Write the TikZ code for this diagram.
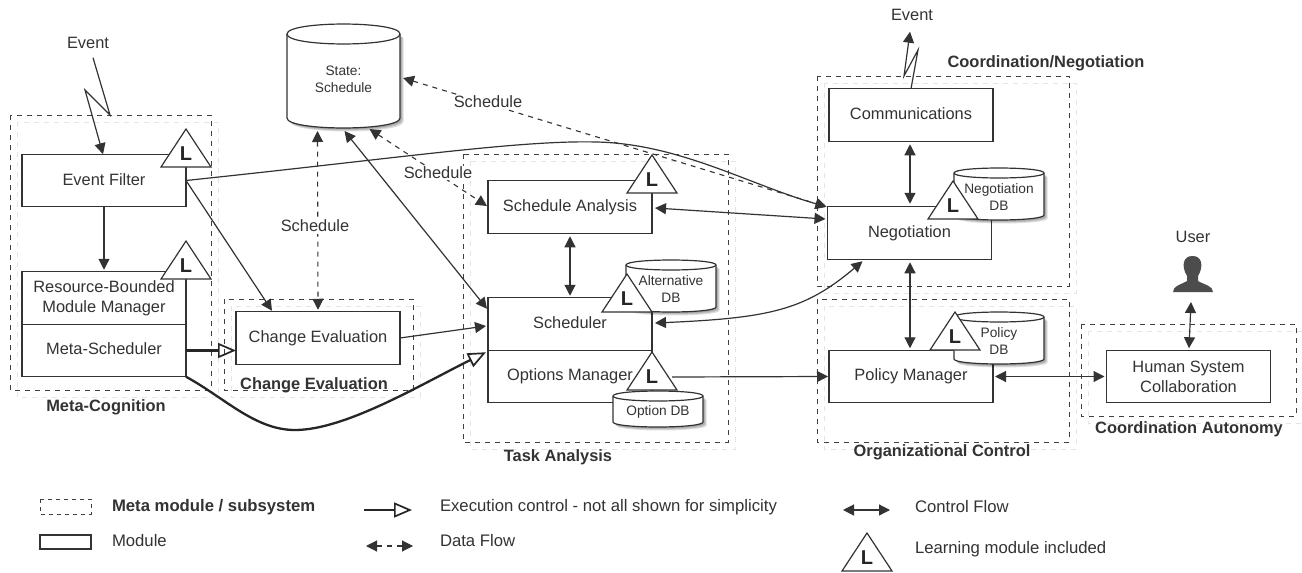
\documentclass[tikz,border=0pt]{standalone}
\usepackage{fontspec}
\setmainfont{Liberation Sans}
\usetikzlibrary{arrows.meta,calc}
\definecolor{ink}{HTML}{333333}
\newcommand\bodyfont{\fontsize{16.4}{20}\selectfont}
\newcommand\legendfont{\fontsize{16.7}{20}\selectfont}
\newcommand\smallfont{\fontsize{13.7}{17}\selectfont}
\tikzset{
  x=1pt,y=-1pt,
  every node/.style={text=ink,inner sep=0pt,outer sep=0pt,font=\bodyfont},
  modbox/.style={draw=ink,line width=1.2pt,fill=white,minimum width=164pt,minimum height=52.5pt,align=center},
  meta/.style={draw=black!75,line width=1pt,dash pattern=on 5pt off 5pt},
  ghost/.style={draw=black!10,line width=1pt,dash pattern=on 5pt off 5pt},
  label/.style={font=\bodyfont\bfseries},
  legendtext/.style={anchor=west,font=\legendfont},
  dbtext/.style={font=\smallfont,align=center},
  ctl/.style={draw=ink,line width=1.2pt,{Triangle[length=11pt,width=11pt]}-{Triangle[length=11pt,width=11pt]}},
  ctlend/.style={draw=ink,line width=1.2pt,-{Triangle[length=11pt,width=11pt]}},
  data/.style={draw=ink,line width=1.1pt,dash pattern=on 5pt off 5pt,{Triangle[length=11pt,width=11pt]}-{Triangle[length=11pt,width=11pt]}},
  exec/.style={draw=black!85,line width=2.3pt,-{Triangle[open,length=18pt,width=15pt,line width=1.7pt]}},
}
% meta box: x1 y1 x2 y2
\newcommand\metabox[4]{%
  \draw[ghost] (#1+7,#2+7) rectangle (#3+7,#4+7);
  \draw[meta] (#1,#2) rectangle (#3,#4);}
% learning triangle: name apexx apexy
\newcommand\learn[3]{%
  \draw[draw=ink,line width=1.2pt,fill=white,line join=miter] (#2,#3) -- (#2+25,#3+38) -- (#2-25,#3+38) -- cycle;
  \node[font=\fontsize{20}{22}\selectfont\bfseries,text=black!85] (#1) at (#2,#3+25) {L};}
% cylinder: name x1 y1 x2 y2 ry text
\newcommand\dbcyl[7]{%
  \foreach \s in {1.5,2.5,3.5}{%
    \fill[black,opacity=.13] (#2+\s,#3+#6+\s) -- (#4+\s,#3+#6+\s) -- (#4+\s,#5-#6+\s)
      .. controls (#4+\s,#5+\s+.33*#6) and (#2+\s,#5+\s+.33*#6) .. (#2+\s,#5-#6+\s) -- cycle;}
  \draw[draw=ink,line width=1.2pt,fill=white] (#2,#3+#6)
     .. controls (#2,#3-.33*#6) and (#4,#3-.33*#6) .. (#4,#3+#6)
     -- (#4,#5-#6) .. controls (#4,#5+.33*#6) and (#2,#5+.33*#6) .. (#2,#5-#6) -- cycle;
  \draw[draw=ink,line width=1.2pt] (#2,#3+#6) .. controls (#2,#3+2.33*#6) and (#4,#3+2.33*#6) .. (#4,#3+#6);
  \node[dbtext,minimum width=#4pt-#2pt,minimum height=#5pt-#3pt] (#1) at ({(#2+#4)/2},{(#3+#5)/2+3}) {#7};}
\begin{document}
\begin{tikzpicture}
\useasboundingbox (0,0) rectangle (1302,573);
\fill[white] (0,0) rectangle (1302,573);
% meta boxes
\metabox{10}{115}{211}{390}
\metabox{224}{299}{413}{390}
\metabox{463}{154}{728}{442}
\metabox{817}{76}{1069}{286}
\metabox{817}{299}{1069}{442}
\begin{scope}\clip (0,0) rectangle (1302,573);\metabox{1081}{324}{1296}{416}\end{scope}
\node (evin) at (88,43) {Event};
\node (evout) at (912,15) {Event};
\node[label] (lmeta) at (106,407) {Meta-Cognition};
\node[label] (lchange) at (314,385) {Change Evaluation};
\node[label] (ltask) at (558,457) {Task Analysis};
\node[label] (lcoord) at (1046,63) {Coordination/Negotiation};
\node[label] (lorg) at (942,452) {Organizational Control};
\node[label] (lauto) at (1189,429) {Coordination Autonomy};
% modules
\node[modbox] (ef) at (104,180.5) {\raisebox{1pt}{Event Filter}};
\node[modbox] (rb) at (104,298) {Resource-Bounded\\Module Manager};
\node[modbox] (ms) at (104,350.5) {\raisebox{3pt}{Meta-Scheduler}};
\node[modbox] (ce) at (318,338) {\raisebox{2pt}{Change Evaluation}};
\node[modbox] (sa) at (570,207) {\raisebox{3pt}{Schedule Analysis}};
\node[modbox] (sch) at (570,324) {\raisebox{2pt}{Scheduler}};
\node[modbox] (om) at (570,376.5) {\raisebox{2pt}{Options Manager}};
\node[modbox] (com) at (911,115) {\raisebox{3pt}{Communications}};
\node[modbox] (neg) at (909.5,233) {\raisebox{3pt}{Negotiation}};
\node[modbox] (pm) at (911,376.5) {\raisebox{2pt}{Policy Manager}};
\node[modbox] (hsc) at (1188.5,376.5) {Human System\\Collaboration};
% databases
\dbcyl{state}{287}{24}{400}{128}{10}{\raisebox{-3.5pt}{State:}\\\raisebox{-3.5pt}{Schedule}}
\dbcyl{altdb}{626}{260}{716}{312}{5}{Alternative\\DB}
\dbcyl{optdb}{613}{391}{703}{427}{5}{Option DB}
\dbcyl{negdb}{954}{168}{1044}{220}{5}{Negotiation\\DB}
\dbcyl{poldb}{954}{312}{1044}{364}{5}{Policy\\DB}
% learning marks
\learn{lef}{186}{129}
\learn{lrb}{186}{241}
\learn{lsa}{652}{155}
\learn{lsch}{627}{274}
\learn{lom}{652}{352}
\learn{lneg}{953}{181}
\learn{lpol}{955}{312}
% control flows
\coordinate (ev1) at (85,90);
\coordinate (ev2) at (110,115);
\draw[ctlend,line join=miter] ($(evin.south)+(5,9)$) -- (ev2) -- (ev1) -- ($(ef.north)+(-1,0)$);
\coordinate (ov1) at (918,50);
\coordinate (ov2) at (904,76);
\draw[ctlend,line join=miter] (com.north) -- (ov1) -- (ov2) -- ($(evout.south)+(-2,11)$);
\draw[ctlend] (ef.south) -- ($(rb.north)+(0,-2)$);
\draw[ctlend] (ef.east) -- ($(ce.north)+(-46,-1)$);
\draw[ctlend] (ce.east) -- ($(sch.west)+(-2,2)$);
\draw[ctl] ($(state.south)+(1,0)$) -- ($(sch.north west)+(-1,11)$);
\draw[ctl] ($(sa.south)+(0,3)$) -- ($(sch.north)+(0,-2)$);
\draw[ctl] ($(sa.east)+(3,1)$) -- ($(neg.west)+(-2,-14)$);
\draw[ctl] ($(com.south)+(-1,3)$) -- ($(neg.north)+(.5,-3)$);
\draw[ctl] ($(neg.south)+(.5,3)$) -- ($(pm.north)+(-1,-2)$);
\draw[ctl] ($(pm.east)+(2,0)$) -- ($(hsc.west)+(-2,0)$);
\draw[ctl] ($(sch.east)+(3,-1)$) .. controls (770,318) and (805,310) .. ($(neg.south west)+(35,2)$);
\draw[ctlend] ($(lom.east)+(14,0)$) -- ($(pm.west)+(-1,0)$);
\draw[ctlend] (ef.east) .. controls (400,158) and (520,140) .. (597,142) .. controls (680,144) and (750,185) .. ($(neg.north west)+(-1,0)$);
% data flows
\draw[data] ($(state.south)+(-26,0)$) -- ($(ce.north)+(0,-2)$);
\node[fill=white,inner sep=1.5pt] (sc1) at (315,226) {Schedule};
\draw[data] ($(state.south)+(26,-2)$) -- ($(sa.west)+(-1,-1)$);
\draw[data] ($(state.east)+(3,-1)$) -- ($(neg.north west)+(-1,0)$);
\node[fill=white,inner sep=1pt] (sc2) at (438,173) {Schedule};
\node[fill=white,inner sep=1pt] (sc3) at (488,102) {Schedule};
% execution control
\draw[exec] (ms.east) -- (ce.west |- ms.east);
\draw[exec] (ms.south east) .. controls (225,398) and (255,430) .. (295,430) .. controls (345,430) and (420,385) .. ($(om.north west)+(-2,2)$);
% user
\node (user) at (1193,237) {User};
\fill[black!70] (1173,292) .. controls (1173,286) and (1180,285) .. (1187,281) -- (1187,276)
  .. controls (1181,266) and (1183,256) .. (1192.5,256) .. controls (1202,256) and (1204,266) .. (1198,276)
  -- (1198,281) .. controls (1205,285) and (1213,286) .. (1213,292) -- cycle;
\coordinate (usericon) at (1192,292);
\draw[ctl] ($(usericon)+(-1,10)$) -- ($(hsc.north)+(.5,-2)$);
% legend
\draw[meta,dash pattern=on 4pt off 4pt] (40,499) rectangle (91,514);
\node[legendtext,font=\legendfont\bfseries] (t1) at (112,507) {Meta module / subsystem};
\node[draw=ink,line width=1.2pt,minimum width=51pt,minimum height=14pt] (lm) at (65.5,542) {};
\node[legendtext] (t2) at (112,541) {Module};
\coordinate (a1) at (364,510); \coordinate (a2) at (412,510);
\draw[exec] (a1) -- (a2);
\node[legendtext] (t3) at (440,507) {Execution control - not all shown for simplicity};
\coordinate (b1) at (366,546); \coordinate (b2) at (413,546);
\draw[data] (b1) -- (b2);
\node[legendtext] (t4) at (440,541) {Data Flow};
\coordinate (c1) at (843,510); \coordinate (c2) at (890,510);
\draw[ctl] (c1) -- (c2);
\node[legendtext] (t5) at (915,507) {Control Flow};
\learn{lleg}{867}{533}
\node[legendtext] (t6) at (915,549) {Learning module included};
\end{tikzpicture}
\end{document}
